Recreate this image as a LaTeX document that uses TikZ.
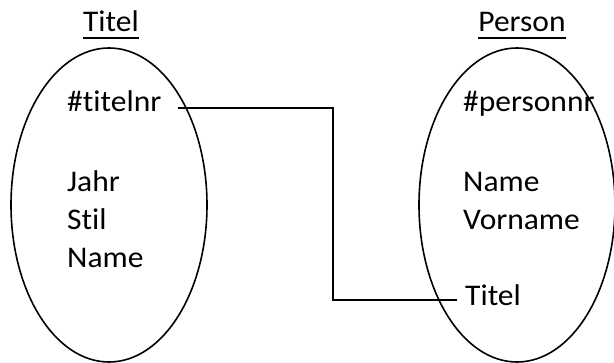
\documentclass[tikz,border=0pt]{standalone}
\usepackage{fontspec}
\setmainfont{Carlito}[FakeStretch=1.05,Ligatures=NoCommon]
\usetikzlibrary{calc}
\begin{document}
\begin{tikzpicture}[x=1pt,y=-1pt,
  entity/.style={draw,line width=1.6pt},
  attr/.style={anchor=base west,inner sep=0pt,font=\fontsize{30}{36}\selectfont},
  heading/.style={anchor=base,inner sep=0pt,font=\fontsize{30}{36}\selectfont},
  link/.style={line width=1.6pt}]
\useasboundingbox (0,0) rectangle (614,363);

% entity outlines
\draw[entity] (109,205) ellipse [x radius=98, y radius=157];
\draw[entity] (517,205) ellipse [x radius=98, y radius=157];

% headings
\node[heading] (hT) at (111,32) {Titel};
\node[heading] (hP) at (522,32) {Person};
\draw[line width=2pt] ([yshift=-6pt]hT.base west) -- ([yshift=-6pt]hT.base east);
\draw[line width=2pt] ([yshift=-6pt]hP.base west) -- ([yshift=-6pt]hP.base east);

% attributes of Titel
\node[attr] (tnr)  at (67,112) {\#titelnr};
\node[attr] (tj)   at (67,192) {Jahr};
\node[attr] (ts)   at (67,230) {Stil};
\node[attr] (tn)   at (67,268) {Name};

% attributes of Person
\node[attr] (pnr)  at (463,112) {\#personnr};
\node[attr] (pn)   at (463,192) {Name};
\node[attr] (pv)   at (463,230) {Vorname};
\node[attr] (pt)   at (465,306) {Titel};

% foreign key link
\coordinate (ls) at ($(tnr.base east)+(16,-4)$);
\coordinate (le) at ($(pt.base west)+(-8,-6)$);
\draw[link] (ls) -- (333,0 |- ls) -- (333,0 |- le) -- (le);
\end{tikzpicture}
\end{document}
